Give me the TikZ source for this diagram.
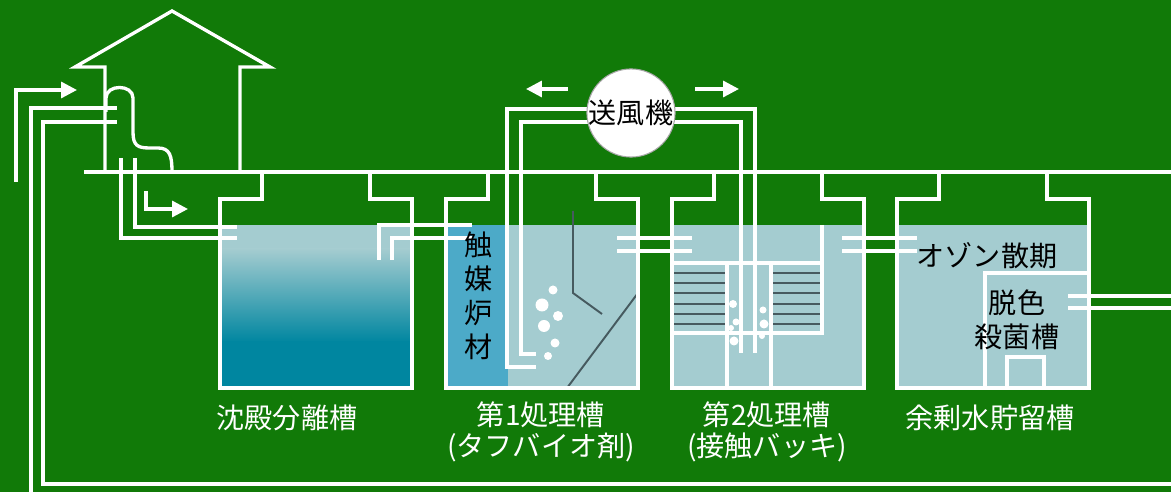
\documentclass[tikz,border=0pt]{standalone}
\usepackage{fontspec}
\usepackage{tikz}
\usetikzlibrary{arrows.meta}
\newfontfamily\jpfont{Noto Sans CJK JP}
\definecolor{verdefondo}{RGB}{17,122,8}
\definecolor{aguaclara}{RGB}{164,204,208}
\definecolor{aguaoscura}{RGB}{0,134,160}
\definecolor{catalizador}{RGB}{76,170,200}
\definecolor{grisoscuro}{RGB}{70,90,95}

\begin{document}
\begin{tikzpicture}[x=0.02cm, y=-0.02cm,
    wall/.style={draw=white, line width=2.8pt},
    pipe/.style={draw=white, line width=1.9pt},
    flecha/.style={pipe, -{Triangle[length=9pt, width=9pt]}},
    media/.style={draw=grisoscuro, line width=1.1pt},
    etiqueta/.style={text=white, font=\jpfont\fontsize{16}{17.6}\selectfont,
                     align=center, inner sep=0pt},
    texto/.style={text=black, font=\jpfont\fontsize{16}{19.3}\selectfont,
                  align=center, inner sep=0pt}
  ]
    % fondo
    \fill[verdefondo] (0,0) rectangle (1171,492);
    \useasboundingbox (0,0) rectangle (1171,492);

    % agua en los tanques
    \fill[aguaclara] (220,225) rectangle (413,250);
    \shade[top color=aguaclara, bottom color=aguaoscura] (220,249) rectangle (413,342);
    \fill[aguaoscura] (220,341) rectangle (413,388);
    \foreach \x in {446,672,897}
      \fill[aguaclara] (\x,225) rectangle (\x+192,388);
    \fill[catalizador] (446,225) rectangle (508,388);

    % tabique y burbujas del tanque 2
    \draw[media] (573,211) -- (573,293) -- (602,314);
    \draw[media] (638,293) -- (567,388);
    \foreach \x/\y/\r in {553/290/4.5, 542/305/6.5, 558/316/5, 544/326/6, 555/343/4.5, 548/356/4}
      \fill[white] (\x,\y) circle[radius=\r];

    % lecho de contacto del tanque 3
    \foreach \y in {273,283,293,304,314,324} {
      \draw[media] (674,\y) -- (725,\y);
      \draw[media] (773,\y) -- (820,\y);
    }
    \draw[pipe] (672,263) -- (822,263);
    \draw[pipe] (822,225) -- (822,333) -- (672,333);
    \draw[pipe] (727,263) -- (727,388);
    \draw[pipe] (771,263) -- (771,388);
    \foreach \x/\y/\r in {733/304/4, 736/322/3.5, 731/328/3, 734/341/4.5, 763/310/3.5, 764/324/4.5, 762/336/3}
      \fill[white] (\x,\y) circle[radius=\r];

    % camara interior del tanque 4
    \draw[pipe] (985,388) -- (985,273) -- (1088,273);
    \draw[pipe] (1007,388) -- (1007,357) -- (1044,357) -- (1044,388);

    % suelo y tanques
    \draw[white, line width=2.2pt] (84,172) -- (1171,172);
    \foreach \x in {220,446,672,897}
      \draw[wall] (\x+42,172) -- (\x+42,199) -- (\x,199) -- (\x,388)
        -- (\x+192,388) -- (\x+192,199) -- (\x+150,199) -- (\x+150,172);

    % casa
    \draw[pipe] (105,172) -- (105,67) -- (75,67) -- (172,11) -- (270,67)
      -- (240,67) -- (240,172);
    \draw[pipe] (106,112) -- (106,98) .. controls (106,84) and (133,84) .. (133,98)
      -- (133,132) .. controls (133,146) and (138,148) .. (150,148)
      -- (158,148) .. controls (170,148) and (172,156) .. (172,172);

    % tuberias
    \draw[flecha] (16,182) -- (16,90) -- (77,90);
    \draw[pipe] (31,492) -- (31,108) -- (117,108);
    \draw[pipe] (1171,484) -- (43,484) -- (43,122) -- (117,122);
    \draw[pipe] (121,158) -- (121,238) -- (237,238);
    \draw[pipe] (135,158) -- (135,227) -- (237,227);
    \draw[flecha] (146,191) -- (146,209) -- (188,209);
    \draw[pipe] (379,260) -- (379,225) -- (472,225);
    \draw[pipe] (392,260) -- (392,238) -- (472,238);
    \foreach \y in {238,251} {
      \draw[pipe] (617,\y) -- (692,\y);
      \draw[pipe] (842,\y) -- (917,\y);
    }
    \draw[pipe] (1068,296) -- (1171,296);
    \draw[pipe] (1068,308) -- (1171,308);

    % aire
    \draw[pipe] (536,367) -- (507,367) -- (507,109) -- (755,109) -- (755,353);
    \draw[pipe] (536,354) -- (521,354) -- (521,122) -- (741,122) -- (741,353);
    \draw[flecha] (568,89) -- (526,89);
    \draw[flecha] (695,89) -- (739,89);
    \node[circle, fill=white, draw=black!35, line width=0.6pt, minimum size=1.76cm,
          inner sep=0pt, texto] (soplador) at (631,113) {送風機};

    % textos
    \node[texto] (catal) at (479,296) {触\\媒\\炉\\材};
    \node[texto] (ozono) at (987,256) {オゾン散期};
    \node[texto] (desinf) at (1017,320) {脱色\\殺菌槽};

    \node[etiqueta] (sedim) at (287,418) {沈殿分離槽};
    \node[etiqueta] (trat1) at (541,432) {第1処理槽\\(タフバイオ剤)};
    \node[etiqueta] (trat2) at (767,432) {第2処理槽\\(接触バッキ)};
    \node[etiqueta] (reserva) at (990,418) {余剰水貯留槽};
  \end{tikzpicture}
\end{document}
